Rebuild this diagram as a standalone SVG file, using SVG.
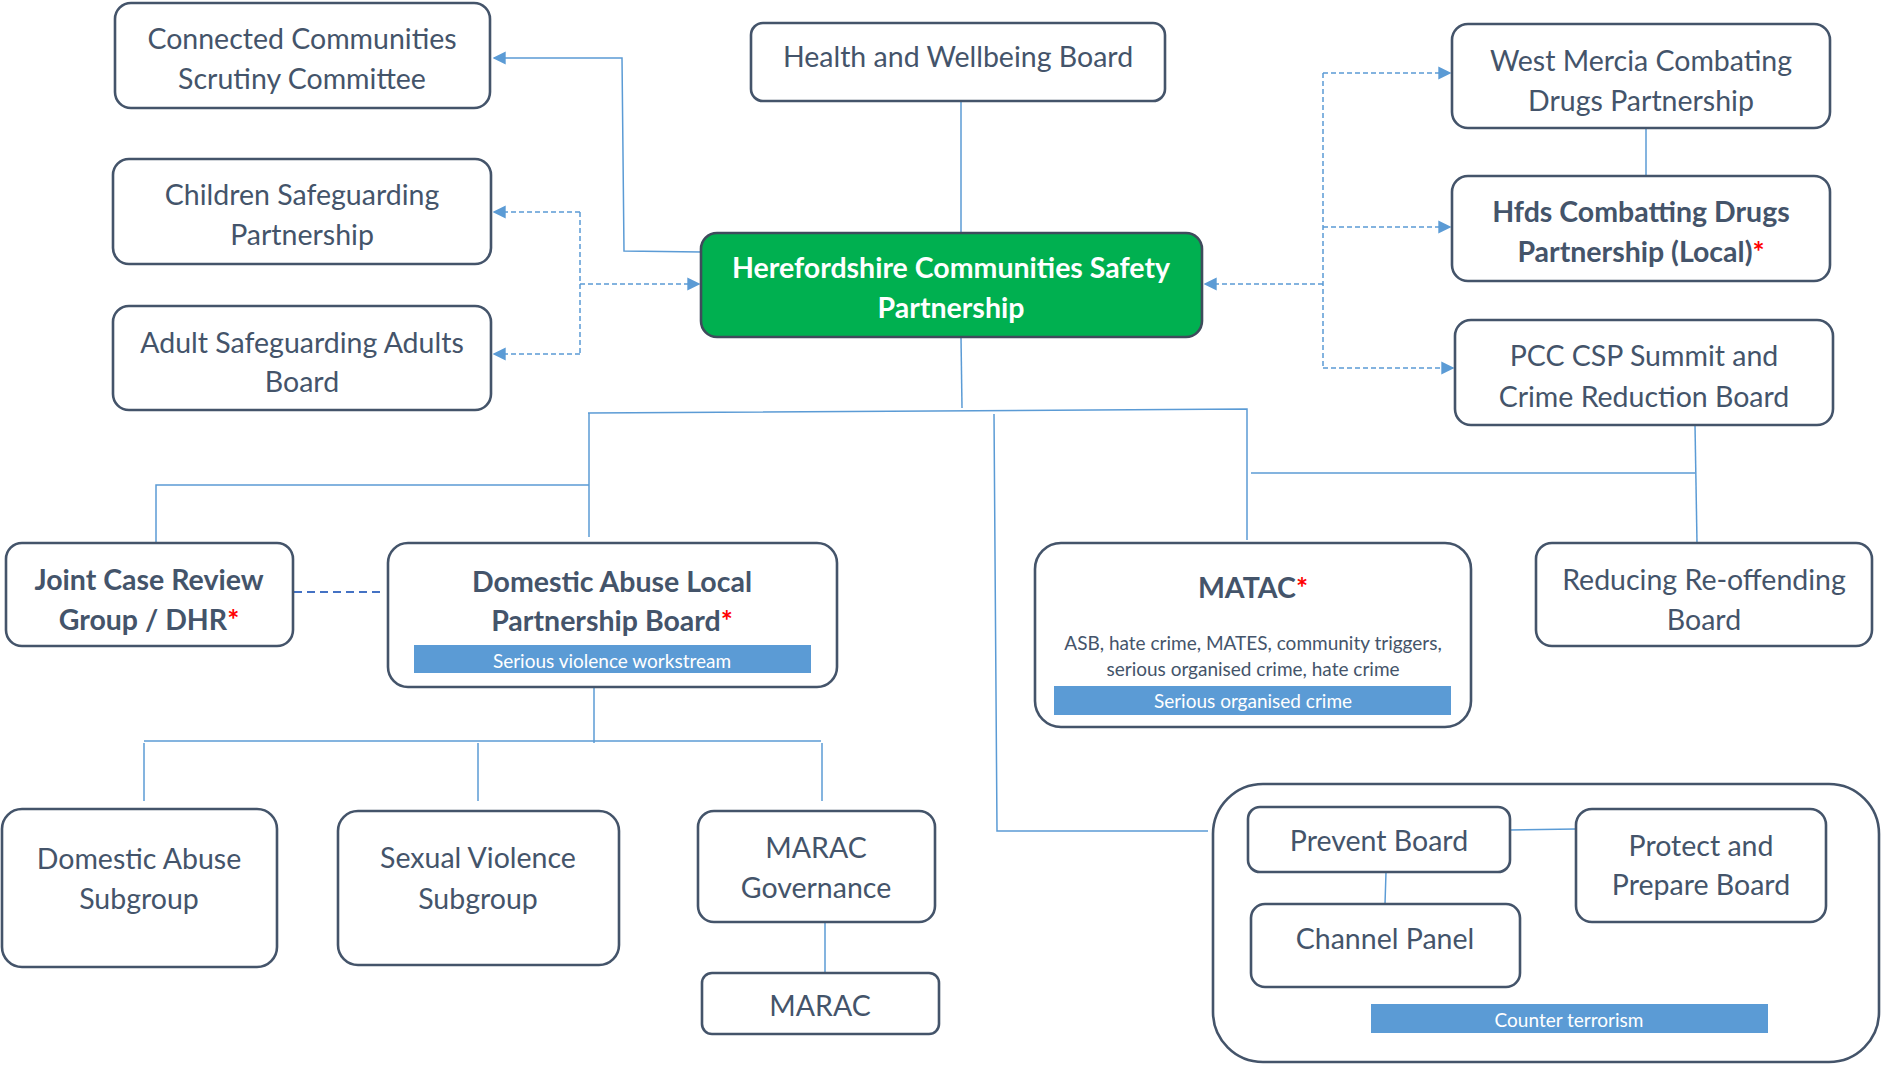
<svg xmlns="http://www.w3.org/2000/svg" width="1881" height="1065" viewBox="0 0 1881 1065">
<style>
.box{fill:#fff;stroke:#44546A;stroke-width:2.6}
.t{font-family:Lato,"Liberation Sans",sans-serif;font-size:28.5px;fill:#44546A;text-anchor:middle;dominant-baseline:central}
.b{font-weight:bold}
.w{fill:#fff}
.s{font-size:19px}
.bar{fill:#5B9BD5}
.bt{font-family:Lato,"Liberation Sans",sans-serif;font-size:19px;fill:#fff;text-anchor:middle;dominant-baseline:central}
.r{fill:#FF0000}
.ln{fill:none;stroke:#5B9BD5;stroke-width:1.5}
.dl{fill:none;stroke:#5B9BD5;stroke-width:1.5;stroke-dasharray:5 3}
.dk{fill:none;stroke:#4472C4;stroke-width:2;stroke-dasharray:8 5}
</style>
<defs>
<marker id="ah" viewBox="0 0 10 10" refX="9" refY="5" markerWidth="13" markerHeight="15" markerUnits="userSpaceOnUse" orient="auto">
<path d="M0,0 L10,5 L0,10 z" fill="#5B9BD5"/>
</marker>
</defs>
<g id="n-ct">
<rect class="box" x="1213" y="784" width="666" height="278" rx="50"/>
<rect class="bar" x="1371" y="1004" width="397" height="29"/>
<text class="bt" x="1569" y="1019">Counter terrorism</text>
</g>
<g id="connectors">
<path class="ln" d="M701,252 L624,251 L622,58 L494,58" marker-end="url(#ah)"/>
<path class="dl" d="M580,212 L580,354"/>
<path class="dl" d="M580,212 L494,212" marker-end="url(#ah)"/>
<path class="dl" d="M580,354 L494,354" marker-end="url(#ah)"/>
<path class="dl" d="M580,284 L699,284" marker-end="url(#ah)"/>
<path class="ln" d="M961,101 L961,233"/>
<path class="dl" d="M1323,73 L1323,368"/>
<path class="dl" d="M1323,73 L1450,73" marker-end="url(#ah)"/>
<path class="dl" d="M1323,227 L1450,227" marker-end="url(#ah)"/>
<path class="dl" d="M1323,368 L1453,368" marker-end="url(#ah)"/>
<path class="dl" d="M1323,284 L1205,284" marker-end="url(#ah)"/>
<path class="ln" d="M1646,128 L1646,176"/>
<path class="ln" d="M961,337 L962,408"/>
<path class="ln" d="M588,413 L1247,409 L1247,540"/>
<path class="ln" d="M589,413 L589,537"/>
<path class="ln" d="M589,485 L156,485 L156,543"/>
<path class="ln" d="M994,414 L997,831 L1208,831"/>
<path class="ln" d="M1251,473 L1695,473"/>
<path class="ln" d="M1695,425 L1697,543"/>
<path class="dk" d="M294,592 L384,592"/>
<path class="ln" d="M594,687 L594,743"/>
<path class="ln" d="M144,741 L821,741"/>
<path class="ln" d="M144,743 L144,801"/>
<path class="ln" d="M478,743 L478,801"/>
<path class="ln" d="M822,743 L822,801"/>
<path class="ln" d="M825,922 L825,973"/>
<path class="ln" d="M1510,830 L1576,829"/>
<path class="ln" d="M1386,872 L1385,904"/>
</g>
<g id="n-cc">
<rect class="box" x="115" y="3" width="375" height="105" rx="16"/>
<text class="t" x="302" y="38">Connected Communities</text>
<text class="t" x="302" y="78">Scrutiny Committee</text>
</g>
<g id="n-csp">
<rect class="box" x="113" y="159" width="378" height="105" rx="16"/>
<text class="t" x="302" y="194">Children Safeguarding</text>
<text class="t" x="302" y="234">Partnership</text>
</g>
<g id="n-asab">
<rect class="box" x="113" y="306" width="378" height="104" rx="16"/>
<text class="t" x="302" y="342">Adult Safeguarding Adults</text>
<text class="t" x="302" y="381">Board</text>
</g>
<g id="n-hwb">
<rect class="box" x="751" y="23" width="414" height="78" rx="12"/>
<text class="t" x="958" y="56">Health and Wellbeing Board</text>
</g>
<g id="n-hcsp">
<rect x="701" y="233" width="501" height="104" rx="16" fill="#00B050" stroke="#3F4B5C" stroke-width="2.6"/>
<text class="t b w" x="951" y="267">Herefordshire Communities Safety</text>
<text class="t b w" x="951" y="307">Partnership</text>
</g>
<g id="n-wm">
<rect class="box" x="1452" y="24" width="378" height="104" rx="16"/>
<text class="t" x="1641" y="60">West Mercia Combating</text>
<text class="t" x="1641" y="100">Drugs Partnership</text>
</g>
<g id="n-hfds">
<rect class="box" x="1452" y="176" width="378" height="105" rx="16"/>
<text class="t b" x="1641" y="211">Hfds Combatting Drugs</text>
<text class="t b" x="1641" y="251">Partnership (Local)<tspan class="r">*</tspan></text>
</g>
<g id="n-pcc">
<rect class="box" x="1455" y="320" width="378" height="105" rx="16"/>
<text class="t" x="1644" y="355">PCC CSP Summit and</text>
<text class="t" x="1644" y="396">Crime Reduction Board</text>
</g>
<g id="n-jcr">
<rect class="box" x="6" y="543" width="287" height="103" rx="16"/>
<text class="t b" x="149" y="579">Joint Case Review</text>
<text class="t b" x="149" y="619">Group / DHR<tspan class="r">*</tspan></text>
</g>
<g id="n-dalpb">
<rect class="box" x="388" y="543" width="449" height="144" rx="20"/>
<text class="t b" x="612" y="581">Domestic Abuse Local</text>
<text class="t b" x="612" y="620">Partnership Board<tspan class="r">*</tspan></text>
<rect class="bar" x="414" y="645" width="397" height="28"/>
<text class="bt" x="612" y="660">Serious violence workstream</text>
</g>
<g id="n-matac">
<rect class="box" x="1035" y="543" width="436" height="184" rx="26"/>
<text class="t b" x="1253" y="587">MATAC<tspan class="r">*</tspan></text>
<text class="t s" x="1253" y="642">ASB, hate crime, MATES, community triggers,</text>
<text class="t s" x="1253" y="668">serious organised crime, hate crime</text>
<rect class="bar" x="1054" y="686" width="397" height="29"/>
<text class="bt" x="1253" y="700">Serious organised crime</text>
</g>
<g id="n-rrb">
<rect class="box" x="1536" y="543" width="336" height="103" rx="16"/>
<text class="t" x="1704" y="579">Reducing Re-offending</text>
<text class="t" x="1704" y="619">Board</text>
</g>
<g id="n-das">
<rect class="box" x="2" y="809" width="275" height="158" rx="20"/>
<text class="t" x="139" y="858">Domestic Abuse</text>
<text class="t" x="139" y="898">Subgroup</text>
</g>
<g id="n-svs">
<rect class="box" x="338" y="811" width="281" height="154" rx="20"/>
<text class="t" x="478" y="857">Sexual Violence</text>
<text class="t" x="478" y="898">Subgroup</text>
</g>
<g id="n-maracgov">
<rect class="box" x="698" y="811" width="237" height="111" rx="16"/>
<text class="t" x="816" y="847">MARAC</text>
<text class="t" x="816" y="887">Governance</text>
</g>
<g id="n-marac">
<rect class="box" x="702" y="973" width="237" height="61" rx="10"/>
<text class="t" x="820" y="1005">MARAC</text>
</g>
<g id="n-prevent">
<rect class="box" x="1248" y="807" width="262" height="65" rx="12"/>
<text class="t" x="1379" y="840">Prevent Board</text>
</g>
<g id="n-channel">
<rect class="box" x="1251" y="904" width="269" height="83" rx="14"/>
<text class="t" x="1385" y="938">Channel Panel</text>
</g>
<g id="n-protect">
<rect class="box" x="1576" y="809" width="250" height="113" rx="16"/>
<text class="t" x="1701" y="845">Protect and</text>
<text class="t" x="1701" y="884">Prepare Board</text>
</g>
</svg>
